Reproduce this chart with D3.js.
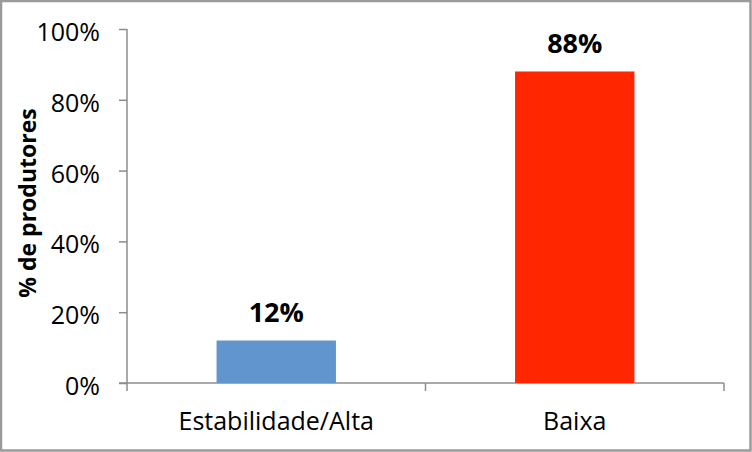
<!DOCTYPE html>
<html><head><meta charset="utf-8">
<script src="https://cdn.jsdelivr.net/npm/d3@7"></script>
<style>body{margin:0;background:#fff}svg{display:block}</style>
</head><body>
<script>
const categories = ["Estabilidade/Alta", "Baixa"];
const values = [0.12, 0.88];
const valueLabels = ["12%", "88%"];
const colors = ["#6096CD", "#FF2600"];
const yTicks = [0, 0.2, 0.4, 0.6, 0.8, 1.0];
const yTitle = "% de produtores";

const W = 752, H = 452;
const svg = d3.select("body").append("svg").attr("width", W).attr("height", H);
svg.append("rect").attr("x", 1).attr("y", 1).attr("width", W - 2.5).attr("height", H - 2.5)
  .attr("fill", "#fff").attr("stroke", "#9a9a9a").attr("stroke-width", 2.5);

const font = "'Open Sans', 'Liberation Sans', sans-serif";
const x = d3.scaleBand().domain(categories).range([127, 724]).paddingInner(0.6).paddingOuter(0.3);
const y = d3.scaleLinear().domain([0, 1]).range([383, 29]);

// y axis
const ya = svg.append("g").attr("transform", "translate(127,0)")
  .call(d3.axisLeft(y).tickValues(yTicks).tickFormat(d3.format(".0%")).tickSize(8).tickPadding(19));
ya.select(".domain").attr("stroke", "#8c8c8c").attr("stroke-width", 1.5).attr("d", "M0,29V383");
ya.selectAll(".tick line").attr("stroke", "#8c8c8c").attr("stroke-width", 1.5);
ya.selectAll(".tick text").attr("font-family", font).attr("font-size", 25).attr("fill", "#000").attr("y", 3.5);

// x axis
const xa = svg.append("g").attr("transform", "translate(0,383)");
xa.append("line").attr("x1", 119).attr("x2", 724).attr("y1", 0).attr("y2", 0)
  .attr("stroke", "#8c8c8c").attr("stroke-width", 1.5);
const bounds = [127, 127 + x.step(), 724];
xa.selectAll("line.t").data(bounds).enter().append("line").attr("class", "t")
  .attr("x1", d => d).attr("x2", d => d).attr("y1", 0).attr("y2", 8)
  .attr("stroke", "#8c8c8c").attr("stroke-width", 1.5);
xa.selectAll("text").data(categories).enter().append("text")
  .attr("x", d => x(d) + x.bandwidth() / 2).attr("y", 47)
  .attr("text-anchor", "middle").attr("font-family", font).attr("font-size", 25)
  .text(d => d);

// bars
svg.selectAll("rect.bar").data(categories).enter().append("rect").attr("class", "bar")
  .attr("x", d => x(d)).attr("width", x.bandwidth())
  .attr("y", (d, i) => y(values[i])).attr("height", (d, i) => y(0) - y(values[i]))
  .attr("fill", (d, i) => colors[i]);

// value labels
svg.selectAll("text.vl").data(categories).enter().append("text").attr("class", "vl")
  .attr("x", d => x(d) + x.bandwidth() / 2).attr("y", (d, i) => y(values[i]) - 18.5)
  .attr("text-anchor", "middle").attr("font-family", font).attr("font-size", 27).attr("font-weight", "bold")
  .text((d, i) => valueLabels[i]);

// y title
svg.append("text").attr("transform", "translate(36,203) rotate(-90)")
  .attr("text-anchor", "middle").attr("font-family", font).attr("font-size", 23).attr("font-weight", "bold")
  .text(yTitle);
</script>
</body></html>
